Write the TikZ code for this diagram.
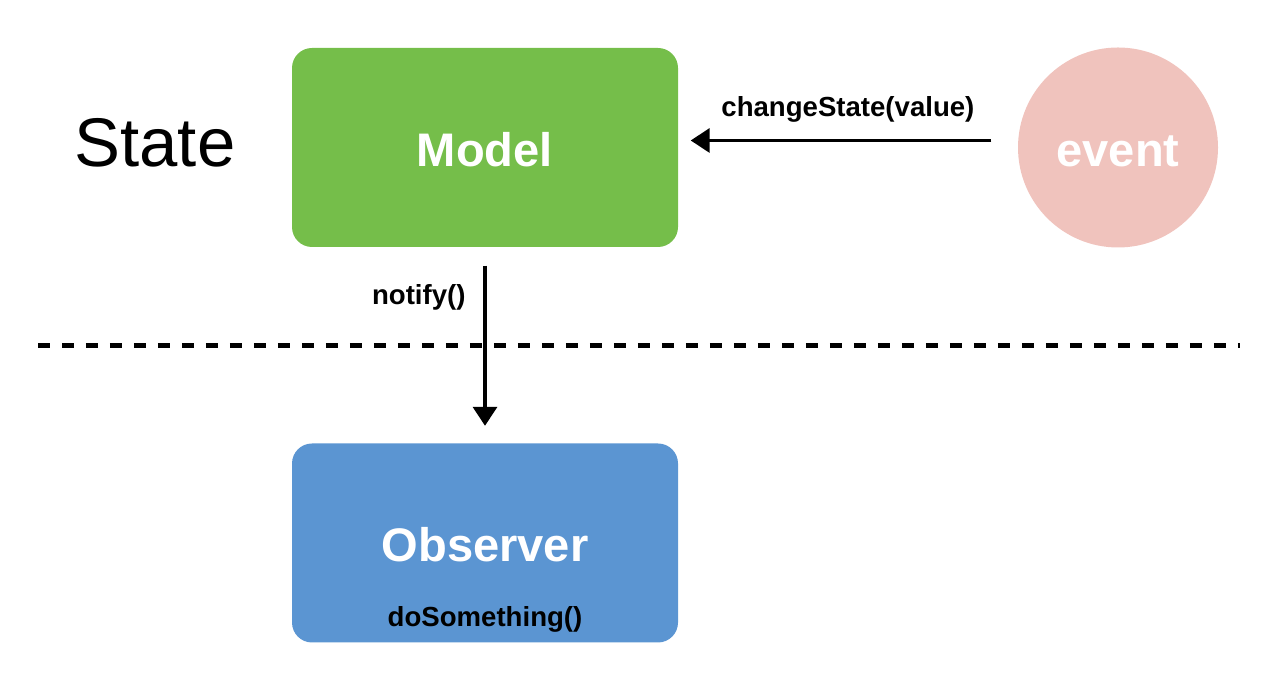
\documentclass[tikz,border=0pt]{standalone}
\usepackage{fontspec}
\setmainfont{Liberation Sans}
\usetikzlibrary{arrows.meta,positioning}

\definecolor{modelgreen}{HTML}{75BE4A}
\definecolor{observerblue}{HTML}{5B95D2}
\definecolor{eventpink}{HTML}{F0C3BD}

\tikzset{
    box/.style={rounded corners=0.2cm, minimum width=3.86cm, minimum height=1.99cm, inner sep=0},
    bigtext/.style={text=white, font=\fontsize{13.4}{15}\selectfont\bfseries},
    call/.style={font=\fontsize{7.85}{9}\selectfont\bfseries},
    flow/.style={line width=1pt, -{Triangle[length=0.19cm,width=0.24cm]}}
}

\begin{document}
\begin{tikzpicture}
    \useasboundingbox (0,0) rectangle (12.82,6.76);

    % -- Zustand links --
    \node[font=\fontsize{19.6}{22}\selectfont] (state) at (1.55,5.33) {State};

    % -- Model (gruen) --
    \node[box, fill=modelgreen] (model) at (4.85,5.285) {};
    \node[bigtext] (modeltext) at (4.85,5.26) {Model};

    % -- event (Kreis) --
    \node[circle, fill=eventpink, minimum size=2cm, inner sep=0] (event) at (11.18,5.285) {};
    \node[bigtext] (eventtext) at (11.18,5.25) {event};

    % -- Observer (blau) --
    \node[box, fill=observerblue] (observer) at (4.85,1.33) {};
    \node[bigtext] (observertext) at (4.85,1.31) {Observer};
    \node[call] (dosomething) at (4.85,0.57) {doSomething()};

    % -- Trennlinie --
    \coordinate (sepleft) at (0.38,3.30);
    \coordinate (sepright) at (12.40,3.30);
    \draw[line width=1.42pt, dash pattern=on 0.12cm off 0.12cm] (sepleft) -- (sepright);

    % -- Pfeile --
    \draw[flow] ([xshift=-0.26cm, yshift=0.07cm]event.west) -- node[call, pos=0.477, above=0.05cm] (changestate) {changeState(value)} ([xshift=0.12cm, yshift=0.07cm]model.east);
    \draw[flow] ([yshift=-0.18cm]model.south) -- node[call, pos=0.2, left=0.06cm] (notify) {notify()} ([yshift=0.17cm]observer.north);
\end{tikzpicture}
\end{document}
